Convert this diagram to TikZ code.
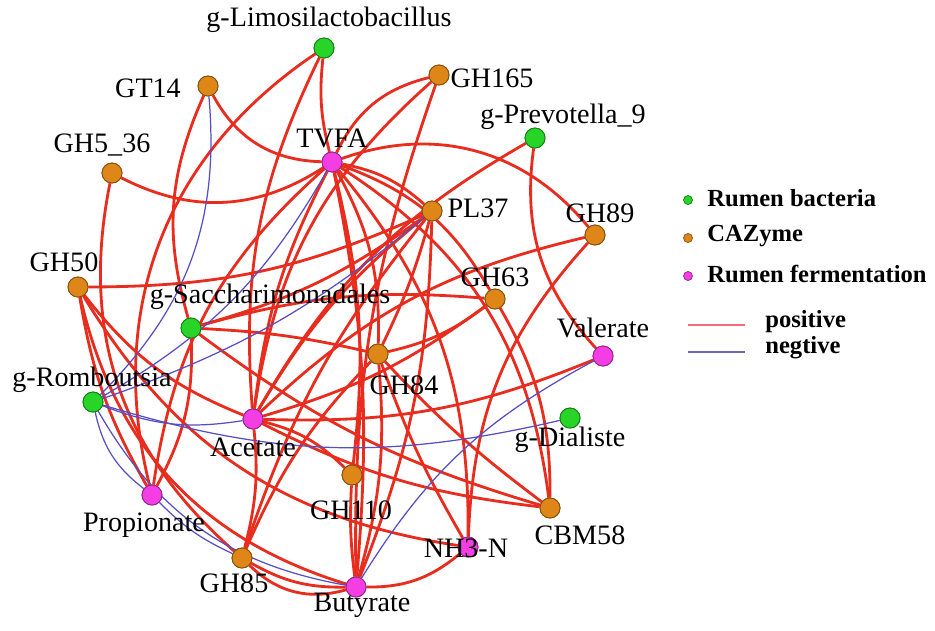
\documentclass[tikz,border=0pt]{standalone}
\usepackage{fontspec}
\setmainfont{Liberation Serif}
\definecolor{posc}{RGB}{232,44,30}
\definecolor{negc}{RGB}{86,78,196}
\definecolor{bact}{RGB}{40,212,40}
\definecolor{caz}{RGB}{222,134,24}
\definecolor{ferm}{RGB}{244,62,228}
\definecolor{legpos}{RGB}{240,110,120}
\definecolor{legneg}{RGB}{110,100,190}
\tikzset{
  vtx/.style={circle,minimum size=0.4cm,inner sep=0pt,line width=0.5pt},
  bnode/.style={vtx,fill=bact,draw=bact!60!black},
  cnode/.style={vtx,fill=caz,draw=caz!60!black},
  fnode/.style={vtx,fill=ferm,draw=ferm!60!black},
  lbl/.style={font=\fontsize{16}{18}\selectfont,inner sep=0pt},
  pe/.style={draw=posc,line width=1.6pt},
  ne/.style={draw=negc,line width=0.7pt},
  legdot/.style={circle,minimum size=0.18cm,inner sep=0pt,line width=0.4pt},
  legtxt/.style={font=\fontsize{14}{16}\selectfont\bfseries,anchor=west,inner sep=0pt},
}
\begin{document}
\begin{tikzpicture}[x=0.02cm,y=-0.02cm]
\useasboundingbox (0,0) rectangle (935,630);
\fill[white] (0,0) rectangle (935,630);
% nodes
\node[bnode] (limo) at (324,48) {};
\node[cnode] (gt14) at (208,86) {};
\node[cnode] (gh165) at (439,75) {};
\node[bnode] (prev) at (535,138) {};
\node[fnode] (tvfa) at (332,162) {};
\node[cnode] (gh536) at (112,173) {};
\node[cnode] (pl37) at (432,211) {};
\node[cnode] (gh89) at (595,235) {};
\node[cnode] (gh50) at (78,287) {};
\node[bnode] (sacc) at (191,328) {};
\node[cnode] (gh63) at (495,299) {};
\node[cnode] (gh84) at (378,354) {};
\node[fnode] (vale) at (603,356) {};
\node[bnode] (romb) at (93,402) {};
\node[fnode] (acet) at (253,419) {};
\node[bnode] (dial) at (570,418) {};
\node[cnode] (gh110) at (352,475) {};
\node[fnode] (prop) at (152,495) {};
\node[cnode] (cbm58) at (550,508) {};
\node[fnode] (nh3) at (468,547) {};
\node[cnode] (gh85) at (242,558) {};
\node[fnode] (buty) at (356,587) {};
% positive edges
\draw[pe] (tvfa) to[bend left=30] (gt14);
\draw[pe] (tvfa) to[bend left=30] (gh536);
\draw[pe] (limo) to[bend right=10] (tvfa);
\draw[pe] (tvfa) to[bend left=25] (gh165);
\draw[pe] (tvfa) to[bend left=35] (gh89);
\draw[pe] (tvfa) to[bend left=15] (pl37);
\draw[pe] (tvfa) to[bend left=20] (gh63);
\draw[pe] (tvfa) to[bend left=15] (gh84);
\draw[pe] (tvfa) to[bend right=10] (acet);
\draw[pe] (tvfa) to[bend left=8] (buty);
\draw[pe] (tvfa) to[bend right=20] (prop);
\draw[pe] (tvfa) to[bend left=10] (gh110);
\draw[pe] (tvfa) to[bend left=20] (nh3);
\draw[pe] (tvfa) to[bend left=25] (cbm58);
\draw[pe] (limo) to[bend right=35] (prop);
\draw[pe] (limo) to[bend right=15] (acet);
\draw[pe] (gt14) to[bend right=20] (sacc);
\draw[pe] (gh536) to[bend right=30] (gh85);
\draw[pe] (gh50) to[bend right=12] (pl37);
\draw[pe] (gh50) to[bend right=10] (prop);
\draw[pe] (gh50) to[bend right=15] (acet);
\draw[pe] (gh50) to[bend right=30] (buty);
\draw[pe] (gh50) to[bend right=25] (nh3);
\draw[pe] (gh165) to[bend right=20] (acet);
\draw[pe] (gh165) to[bend right=10] (buty);
\draw[pe] (prev) to[bend right=15] (acet);
\draw[pe] (prev) to[bend right=25] (vale);
\draw[pe] (pl37) to[bend right=10] (acet);
\draw[pe] (pl37) to[bend left=10] (sacc);
\draw[pe] (pl37) to[bend left=5] (gh84);
\draw[pe] (pl37) to[bend right=10] (gh85);
\draw[pe] (pl37) to[bend left=10] (buty);
\draw[pe] (gh89) to[bend right=15] (acet);
\draw[pe] (gh89) to[bend right=20] (nh3);
\draw[pe] (gh63) to[bend right=10] (sacc);
\draw[pe] (gh63) to[bend left=10] (acet);
\draw[pe] (gh63) to[bend left=15] (cbm58);
\draw[pe] (gh63) to[bend left=12] (gh84);
\draw[pe] (sacc) to[bend left=5] (gh84);
\draw[pe] (acet) to[bend right=12] (vale);
\draw[pe] (sacc) to[bend right=10] (cbm58);
\draw[pe] (sacc) to[bend left=15] (prop);
\draw[pe] (acet) to[bend left=15] (gh110);
\draw[pe] (acet) to[bend left=10] (gh85);
\draw[pe] (acet) to[bend right=10] (cbm58);
\draw[pe] (gh84) to[bend right=5] (nh3);
\draw[pe] (gh84) to[bend right=5] (cbm58);
\draw[pe] (gh84) to[bend left=10] (buty);
\draw[pe] (gh110) to[bend right=5] (buty);
\draw[pe] (gh85) to[bend right=15] (buty);
\draw[pe] (gh85) to[bend right=30] (buty);
\draw[pe] (gh85) to[bend left=10] (gh84);
\draw[pe] (nh3) to[bend left=20] (buty);
% negative edges
\draw[ne] (gt14) to[bend left=25] (romb);
\draw[ne] (tvfa) to[bend left=15] (romb);
\draw[ne] (pl37) to[bend left=10] (romb);
\draw[ne] (romb) to[bend right=15] (acet);
\draw[ne] (romb) to[bend right=15] (dial);
\draw[ne] (romb) to[bend right=20] (prop);
\draw[ne] (romb) to[bend right=25] (buty);
\draw[ne] (prop) to[bend right=10] (gh85);
\draw[ne] (buty) to[bend left=15] (vale);
% nodes on top of edges
\foreach \n/\s in {limo/bnode,prev/bnode,sacc/bnode,romb/bnode,dial/bnode,
  gt14/cnode,gh165/cnode,gh536/cnode,pl37/cnode,gh89/cnode,gh50/cnode,gh63/cnode,gh84/cnode,gh110/cnode,cbm58/cnode,gh85/cnode,
  tvfa/fnode,vale/fnode,acet/fnode,prop/fnode,nh3/fnode,buty/fnode}
  {\node[\s] at (\n) {};}
% labels
\node[lbl] (limo-l) at (329,20) {g-Limosilactobacillus};
\node[lbl] (gt14-l) at (148,88) {GT14};
\node[lbl] (gh165-l) at (492,78) {GH165};
\node[lbl] (prev-l) at (563,117) {g-Prevotella\_9};
\node[lbl] (tvfa-l) at (332,138) {TVFA};
\node[lbl] (gh536-l) at (102,145) {GH5\_36};
\node[lbl] (pl37-l) at (478,208) {PL37};
\node[lbl] (gh89-l) at (600,213) {GH89};
\node[lbl] (gh50-l) at (64,262) {GH50};
\node[lbl] (sacc-l) at (270,297) {g-Saccharimonadales};
\node[lbl] (gh63-l) at (495,277) {GH63};
\node[lbl] (gh84-l) at (404,385) {GH84};
\node[lbl] (vale-l) at (603,328) {Valerate};
\node[lbl] (romb-l) at (92,380) {g-Romboutsia};
\node[lbl] (acet-l) at (253,447) {Acetate};
\node[lbl] (dial-l) at (570,440) {g-Dialiste};
\node[lbl] (gh110-l) at (351,510) {GH110};
\node[lbl] (prop-l) at (144,525) {Propionate};
\node[lbl] (nh3-l) at (466,548) {NH3-N};
\node[lbl] (cbm58-l) at (580,535) {CBM58};
\node[lbl] (gh85-l) at (234,583) {GH85};
\node[lbl] (buty-l) at (362,605) {Butyrate};
% legend
\node[legdot,fill=bact,draw=bact!60!black] (lg1) at (688,200) {};
\node[legdot,fill=caz,draw=caz!60!black] (lg2) at (688,238) {};
\node[legdot,fill=ferm,draw=ferm!60!black] (lg3) at (688,276) {};
\node[legtxt] (lt1) at (707,198) {Rumen bacteria};
\node[legtxt] (lt2) at (707,236) {CAZyme};
\node[legtxt] (lt3) at (707,274) {Rumen fermentation};
\coordinate (p1) at (688,325); \coordinate (p2) at (745,325);
\coordinate (n1) at (688,352); \coordinate (n2) at (745,352);
\draw[legpos,line width=0.8pt] (p1) -- (p2);
\draw[legneg,line width=0.8pt] (n1) -- (n2);
\node[legtxt] (lt4) at (765,322) {positive};
\node[legtxt] (lt5) at (765,348) {negtive};
\end{tikzpicture}
\end{document}
